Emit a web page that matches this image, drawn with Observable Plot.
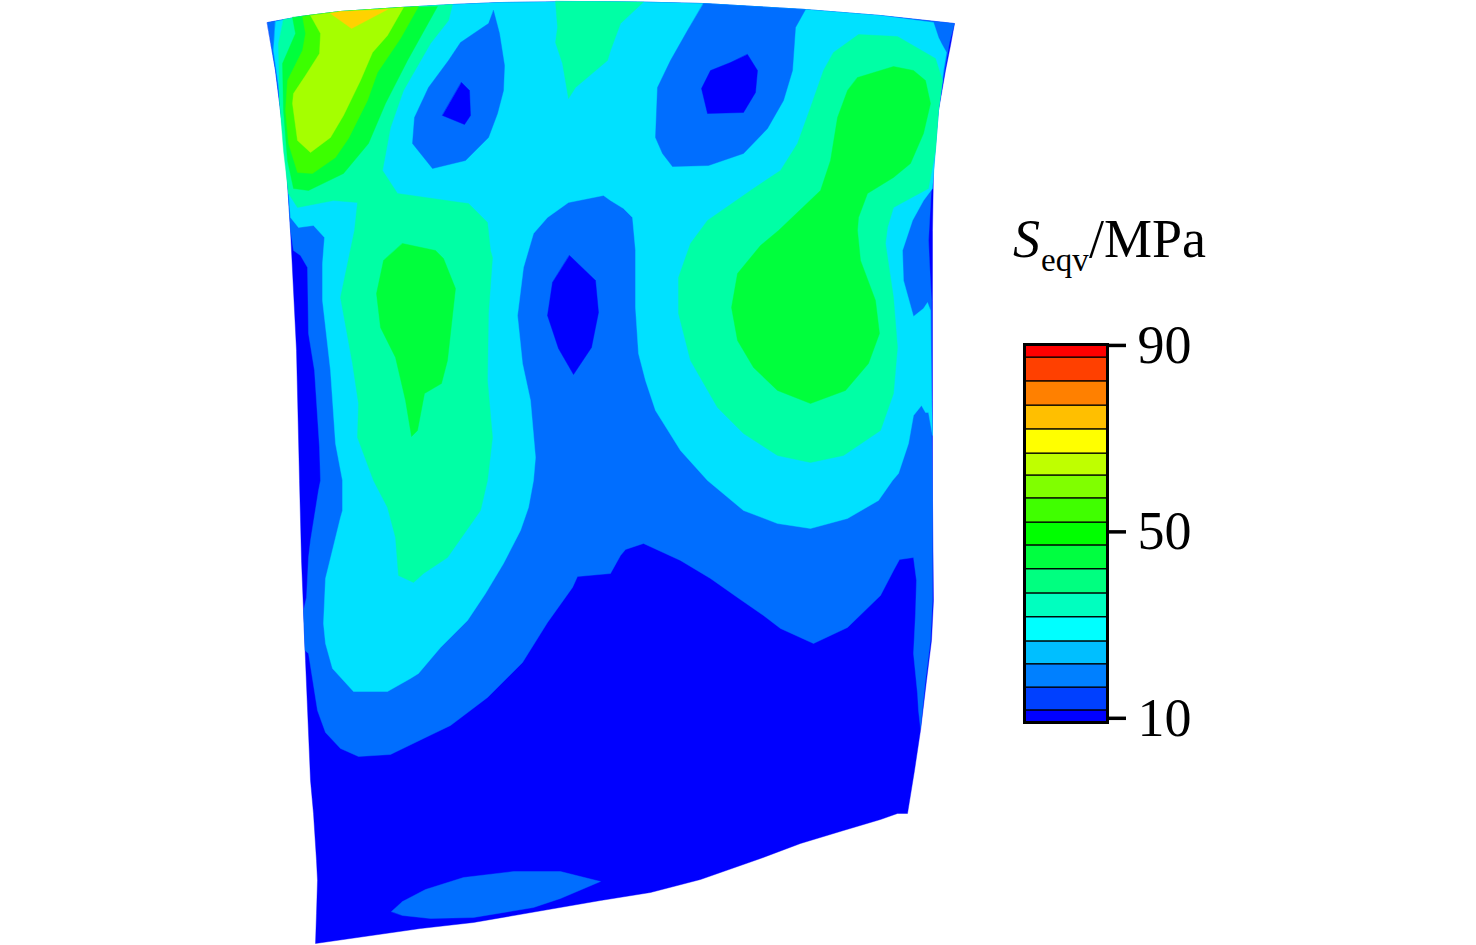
<!DOCTYPE html>
<html><head><meta charset="utf-8">
<script src="https://cdn.jsdelivr.net/npm/d3@7"></script>
<script src="https://cdn.jsdelivr.net/npm/@observablehq/plot@0.6"></script>
<style>
html,body{margin:0;padding:0;background:#fff;width:1476px;height:945px;overflow:hidden}
#wrap{position:relative;width:1476px;height:945px}
#wrap svg{position:absolute;background:transparent;overflow:visible}
.ttl{position:absolute;font-family:"Liberation Serif",serif;color:#000;white-space:nowrap;line-height:1}
</style></head><body><div id="wrap"></div>
<script>
// Contour regions (blade-surface coordinates)
const blade=[[267,22],[300,16],[340,11],[400,7],[452,4],[500,2],[580,1],[640,1.5],[703,3],[805,9],[880,15],[954,23],[950,45],[945,70],[938,110],[933,170],[932,230],[932,300],[932,400],[932,500],[933,600],[931,640],[926,680],[920,730],[914,770],[907,813],[897,813],[880,819],[843,830],[800,843],[760,858],[700,879],[650,892],[600,900],[473,922],[420,928],[315,943],[316,913],[317,880],[316,860],[313,813],[310,780],[305,660],[303,610],[301,560],[299,480],[296,350],[290,230],[285,150],[275,70]];
const blueZone=[[267,22],[300,16],[340,11],[400,7],[452,4],[500,2],[580,1],[640,1.5],[703,3],[805,9],[880,15],[954,23],[949,42],[945,65],[938,108],[932,170],[928,240],[929,262],[931,300],[931,400],[932,500],[932,600],[930,640],[925,680],[920,728],[918,710],[917,693],[913,653],[915,613],[916,580],[913,557],[899,559],[893,570],[880,595],[847,627],[813,643],[780,628],[763,615],[737,597],[710,578],[680,560],[643,543],[625,549],[620,555],[610,573],[577,576],[572,587],[547,622],[522,662],[487,697],[450,725],[423,738],[390,754],[358,756],[340,748],[325,732],[317,710],[308,653],[304.5,650],[303,610],[306,597],[308,557],[310,540],[318,490],[320,480],[319,447],[314,370],[308,333],[307,267],[300,255],[293,250],[290,230],[285,150],[275,70]];
const cyanZone=[[275,21],[300,16],[340,11],[400,7],[452,4],[500,2],[580,1],[640,1.5],[703,3],[805,9],[880,15],[933,22],[938,37],[941,43],[946,52],[943,70],[938,110],[932,188],[923,200],[912,220],[902,250],[903,280],[913,316],[923,308],[927,302],[930,310],[931,390],[932,435],[928,412],[925,412],[921,405],[913,415],[908,443],[898,473],[892,480],[878,500],[847,518],[810,528],[777,523],[743,510],[707,480],[680,450],[655,410],[645,380],[638,353],[635,307],[635,250],[632,217],[623,208],[610,200],[603,195],[568,202],[547,217],[533,233],[523,267],[517,315],[522,363],[530,400],[535,457],[533,480],[528,507],[520,530],[503,563],[485,593],[467,620],[440,647],[418,673],[410,678],[387,691],[353,691],[332,668],[325,643],[323,623],[325,578],[340,517],[342,510],[342,480],[335,443],[330,370],[322,300],[322,263],[324,237],[313,225],[298,227],[290,217],[285,150],[278,85],[273,50]];
const springLeft=[[283,19],[300,16],[340,11],[400,7],[452,4],[448,20],[430,43],[403,90],[390,127],[382,170],[397,193],[460,202],[468,203],[487,222],[490,250],[492,257],[488,313],[487,380],[492,437],[487,480],[480,510],[447,557],[423,573],[413,582],[398,575],[395,537],[387,507],[373,480],[357,437],[358,403],[352,363],[340,297],[354,230],[357,202],[333,200],[297,207],[288,193],[283,150],[279,100],[278,43]];
const springTop=[[555,1],[557,27],[555,42],[562,63],[568,98],[575,87],[607,60],[610,50],[620,23],[643,1.5],[580,1]];
const springRight=[[833,52],[858,34],[897,36],[935,58],[942,80],[938,110],[935,150],[928,188],[893,207],[887,227],[885,243],[893,297],[897,347],[893,393],[880,430],[843,455],[810,462],[777,455],[743,433],[717,407],[690,360],[678,313],[678,277],[690,243],[707,220],[753,188],[780,170],[797,143],[810,107],[823,70]];
const greenTop=[[292,17],[295,33],[282,63],[283,110],[287,160],[293,188],[308,190],[343,173],[368,143],[385,103],[407,60],[437,6],[400,7],[340,11],[300,16]];
const greenLeft=[[402,243],[435,250],[443,258],[455,288],[447,360],[441,383],[424,393],[417,430],[411,436],[405,400],[395,357],[380,327],[376,293],[383,260]];
const greenRight=[[857,77],[893,66],[913,70],[925,80],[930,103],[923,133],[910,163],[893,177],[867,193],[858,217],[857,230],[860,260],[875,300],[879,333],[868,363],[845,390],[810,403],[777,390],[753,367],[737,340],[731,307],[737,273],[760,245],[778,230],[820,190],[830,160],[837,117],[847,90]];
const yellowGreenZone=[[302,16],[305,33],[302,50],[287,80],[285,110],[288,143],[297,172],[312,173],[335,157],[348,138],[367,100],[377,72],[400,38],[418,6],[400,7],[340,11]];
const limeZone=[[310,15],[320,33],[319,53],[305,75],[293,93],[292,103],[297,140],[310,152],[330,137],[343,115],[360,80],[372,52],[387,35],[403,7],[340,11]];
const amberZone=[[330,13],[351,28],[387,9],[340,11]];
const islandTopLeft=[[493,10],[499,33],[504,65],[503,90],[497,113],[488,137],[465,160],[432,168],[412,143],[414,117],[428,87],[448,60],[460,42],[488,23]];
const islandTop=[[703,3],[805,9],[795,27],[792,70],[783,100],[767,128],[743,153],[708,165],[672,166],[662,153],[655,137],[657,87],[670,60],[687,30]];
const islandBottom=[[391,911],[402,901],[425,889],[463,877],[513,871],[560,871],[600,881],[560,898],[533,907],[473,917],[430,918],[402,915]];
const coreTopLeft=[[461,82],[469,90],[470,115],[464,124],[442,115]];
const coreTop=[[747,54],[757,70],[755,92],[743,112],[707,113],[701,88],[710,70],[730,62]];
const coreCentre=[[569,255],[595,280],[598,312],[591,347],[573,374],[558,348],[547,315],[552,282]];

const regionColors=["#0000ff","#006eff","#00e1ff","#00ffa5","#00ff3c","#3cff00","#a5ff00","#ffd200"];
const regions=[
 [blade,0],[blueZone,1],[cyanZone,2],
 [springLeft,3],[springTop,3],[springRight,3],
 [greenTop,4],[greenLeft,4],[greenRight,4],
 [yellowGreenZone,5],[limeZone,6],[amberZone,7],
 [islandTopLeft,1],[islandTop,1],[islandBottom,1],
 [coreTopLeft,0],[coreTop,0],[coreCentre,0]
];

// Colour bar: band edges in MPa, and the band colours from the bottom up
const bandEdges=[9.1,11.7,16.6,21.6,26.5,31.7,36.8,42,47.1,52,57.2,62.1,66.8,72,77.1,82.3,87.4,90.2];
const bandColors=["#0000ff","#0040ff","#0080ff","#00bfff","#00ffff","#00ffbf","#00ff80","#00ff40","#00ff00","#40ff00","#80ff00","#bfff00","#ffff00","#ffbf00","#ff8000","#ff4000","#ff0000"];
const barTicks=[10,50,90];

const map=Plot.plot({
  width:1476,height:945,margin:0,
  x:{domain:[0,1476],range:[0,1476],axis:null},
  y:{domain:[0,945],range:[0,945],axis:null},
  marks:regions.map(([pts,c])=>Plot.line(pts,{x:d=>d[0],y:d=>d[1],fill:regionColors[c],stroke:regionColors[c],strokeWidth:0.4,curve:"linear-closed"}))
});
map.style.left="0";map.style.top="0";

const bands=bandColors.map((c,i)=>({y1:bandEdges[i],y2:bandEdges[i+1],c}));
const bar=Plot.plot({
  width:320,height:480,
  marginLeft:124,marginRight:113,marginTop:64,marginBottom:38,
  x:{domain:[0,1],axis:null},
  y:{domain:[9.1,90.2],axis:null},
  marks:[
    Plot.rect(bands,{x1:0,x2:1,y1:"y1",y2:"y2",fill:"c",stroke:"#000",strokeWidth:1.2}),
    Plot.frame({stroke:"#000",strokeWidth:3}),
    Plot.axisY(barTicks,{anchor:"right",tickSize:18,tickPadding:12,strokeWidth:3.5,stroke:"#000",fill:"#000",label:null,fontSize:54,fontFamily:"Liberation Serif",tickFormat:d=>String(d)})
  ]
});
bar.style.left="900px";bar.style.top="280px";

const wrap=document.getElementById("wrap");
wrap.append(map,bar);
const addText=(txt,left,top,size,italic)=>{const s=document.createElement("span");s.className="ttl";s.textContent=txt;s.style.left=left+"px";s.style.top=top+"px";s.style.fontSize=size+"px";if(italic)s.style.fontStyle="italic";wrap.append(s);};
addText("S",1013,212,54,true);
addText("eqv",1041,244,33,false);
addText("/MPa",1089,212,54,false);
</script></body></html>
